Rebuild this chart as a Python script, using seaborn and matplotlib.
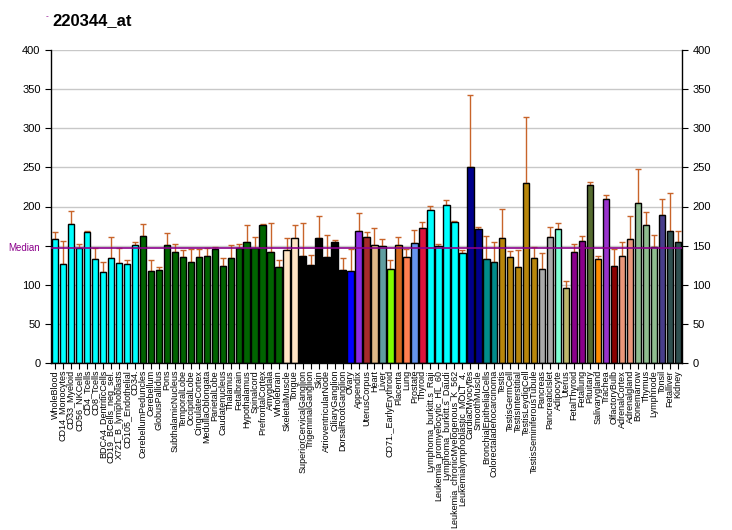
import matplotlib
matplotlib.use("Agg")
import matplotlib.pyplot as plt
import numpy as np
import pandas as pd
import seaborn as sns

TITLE = "220344_at"
MEDIAN = 147.5

tissues = [
    "WholeBlood", "CD14_Monocytes", "CD33_Myeloid", "CD56_NKCells", "CD4_Tcells",
    "CD8_Tcells", "BDCA4_DentriticCells", "CD19_BCells_neg_sel.", "X721_B_lymphoblasts",
    "CD105_Endothelial", "CD34.", "CerebellumPeduncles", "Cerebellum", "GlobusPallidus",
    "Pons", "SubthalamicNucleus", "TemporalLobe", "OccipitalLobe", "CingulateCortex",
    "MedullaOblongata", "ParietalLobe", "Caudatenucleus", "Thalamus", "Fetalbrain",
    "Hypothalamus", "Spinalcord", "PrefrontalCortex", "Amygdala", "Wholebrain",
    "SkeletalMuscle", "Tongue", "SuperiorCervicalGanglion", "TrigeminalGanglion", "Skin",
    "AtrioventricularNode", "CiliaryGanglion", "DorsalRootGanglion", "Ovary", "Appendix",
    "UterusCorpus", "Heart", "Liver", "CD71._EarlyErythroid", "Placenta", "Lung",
    "Prostate", "Thyroid", "Lymphoma_burkitt.s_Raji", "Leukemia_promyelocytic_HL_60",
    "Lymphoma_burkitt.s_Daudi", "Leukemia_chronicMyelogenous_K_562",
    "Leukemialymphoblastic_MOLT_4.", "CardiacMyocytes", "SmoothMuscle",
    "BronchialEpithelialCells", "Colorectaladenocarcinoma", "Testis", "TestisGermCell",
    "TestisInterstitial", "TestisLeydigCell", "TestisSeminiferousTubule", "Pancreas",
    "PancreaticIslet", "Adipocyte", "Uterus", "FetalThyroid", "Fetallung", "Pituitary",
    "Salivarygland", "Trachea", "OlfactoryBulb", "AdrenalCortex", "Adrenalgland",
    "Bonemarrow", "Thymus", "Lymphnode", "Tonsil", "Fetalliver", "Kidney",
]

values = [
    158.5, 126.5, 177.6, 147.0, 167.8, 133.3, 116.3, 134.2, 127.8, 126.5,
    150.8, 162.3, 117.6, 118.8, 150.8, 141.9, 135.5, 129.1, 135.5, 136.7,
    145.7, 124.0, 134.2, 146.5, 154.6, 146.5, 176.4, 141.9, 122.7, 144.4,
    159.7, 136.7, 125.2, 159.7, 135.5, 154.6, 118.8, 117.6, 168.7, 161.0,
    150.8, 149.5, 120.1, 150.8, 135.5, 153.4, 172.5, 195.5, 149.5, 201.9,
    180.2, 140.6, 250.5, 171.2, 132.9, 129.1, 159.7, 135.5, 122.7, 230.0,
    134.2, 120.1, 161.0, 171.2, 95.8, 141.9, 155.9, 227.5, 132.9, 209.6,
    124.0, 136.7, 158.5, 204.5, 176.4, 148.2, 189.1, 169.1, 154.6,
]

upper = [
    167.4, 155.9, 194.2, 151.6, 168.7, 146.5, 128.6, 161.0, 146.5, 131.6,
    154.6, 177.6, 131.6, 122.7, 166.1, 151.6, 144.4, 146.1, 146.1, 146.5,
    147.8, 134.2, 150.8, 152.0, 175.9, 161.0, 177.6, 178.9, 131.6, 159.7,
    176.4, 178.9, 138.0, 187.8, 163.6, 157.2, 134.2, 146.1, 191.7, 167.4,
    172.5, 158.5, 131.6, 161.0, 145.7, 170.0, 180.2, 200.6, 152.0, 208.3,
    181.5, 144.4, 342.5, 173.8, 162.3, 154.6, 196.8, 143.1, 144.4, 314.4,
    148.2, 140.6, 173.8, 178.9, 104.4, 152.0, 162.3, 231.3, 136.7, 214.7,
    145.7, 154.6, 187.8, 247.9, 193.0, 163.6, 209.6, 217.3, 168.7,
]

colors = (
    ["#00FFFF"] * 11 + ["#006400"] * 18 + ["#FFE4C4"] * 2 + ["#000000"] * 6
    + ["#0000FF", "#8A2BE2", "#A52A2A", "#DEB887", "#5F9EA0", "#7FFF00",
       "#D2691E", "#FF7F50", "#6495ED", "#DC143C"]
    + ["#00FFFF"] * 5 + ["#00008B"] * 2 + ["#008B8B"] * 2 + ["#B8860B"] * 5
    + ["#A9A9A9"] * 2 + ["#7FFFD4", "#BDB76B"] + ["#8B008B"] * 2
    + ["#556B2F", "#FF8C00", "#9932CC", "#8B0000"] + ["#E9967A"] * 2
    + ["#8FBC8F"] * 3 + ["#483D8B"] + ["#2F4F4F"] * 2
)

sns.set_theme(style="white")
plt.rcParams["font.family"] = ["Liberation Sans", "DejaVu Sans"]
plt.rcParams["text.color"] = "black"
plt.rcParams["xtick.color"] = "black"
plt.rcParams["ytick.color"] = "black"

df = pd.DataFrame({"tissue": tissues, "value": values})

fig = plt.figure(figsize=(7.32, 5.30), dpi=100)
ax = fig.add_axes([51 / 732, 1 - 363 / 530, 631 / 732, 313 / 530])

for y in range(50, 401, 50):
    ax.axhline(y, color="#C8C8C8", lw=1, zorder=0)

sns.barplot(data=df, x="tissue", y="value", hue="tissue", palette=colors,
            saturation=1, edgecolor="black", linewidth=1, width=0.8,
            legend=False, errorbar=None, ax=ax, zorder=2)

x = np.arange(len(tissues))
vals = np.array(values)
err = np.array(upper) - vals
ax.errorbar(x, vals, yerr=[np.zeros_like(err), err], fmt="none",
            ecolor="#C8642A", elinewidth=1, capsize=2.5, capthick=1, zorder=1)

ax.axhline(MEDIAN, color="#8B008B", lw=1.2, zorder=3)
ax.text(8 / 732, 1 - 248 / 530, "Median", transform=fig.transFigure,
        ha="left", va="center", color="#8B008B", fontsize=7)

ax.set_xlim(-0.5, len(tissues) - 0.5)
ax.set_ylim(0, 400)
ax.set_yticks(range(0, 401, 50))
ax.set_xlabel("")
ax.set_ylabel("")
ax.set_xticks(x)
ax.set_xticklabels(tissues, rotation=90, fontsize=6.5,
                   family=["Liberation Sans Narrow", "Liberation Sans"])
ax.tick_params(axis="x", length=4, width=0.8, pad=1, bottom=True)
ax.tick_params(axis="y", length=4, width=0.8, labelsize=8, left=True,
               right=True, labelright=True)
# the "Median" label takes the place of the left 150 tick label
ax.yaxis.get_major_ticks()[3].label1.set_visible(False)
ax.spines["top"].set_visible(False)
for side in ["left", "right", "bottom"]:
    ax.spines[side].set_color("black")
    ax.spines[side].set_linewidth(1)

fig.text(52 / 732, 1 - 21 / 530, TITLE, fontsize=12, fontweight="bold",
         va="center", ha="left")
fig.text(46 / 732, 1 - 17 / 530, "-", fontsize=6, color="#8B008B",
         va="center", ha="left")

fig.savefig("out.png", dpi=100)
